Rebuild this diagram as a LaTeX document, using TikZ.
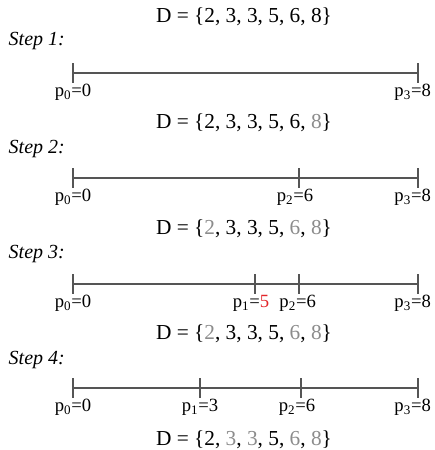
\documentclass[tikz,border=0pt]{standalone}
\usepackage{fontspec}
\setmainfont{Liberation Serif}
\usetikzlibrary{positioning}
\definecolor{faded}{HTML}{8C8C8C}
\definecolor{pick}{HTML}{E3262B}
\definecolor{axis}{HTML}{555555}
\newcommand{\gr}[1]{\textcolor{faded}{#1}}

\begin{document}
\begin{tikzpicture}[x=0.75pt,y=-0.75pt,
  setlbl/.style={font=\fontsize{16}{19}\selectfont},
  steplbl/.style={font=\fontsize{15}{18}\selectfont\itshape,anchor=west},
  ptlbl/.style={font=\fontsize{14}{17}\selectfont,below=5pt},
  axisline/.style={draw=axis,line width=0.8pt},
  tick/.style={draw=axis,line width=0.8pt}]
\useasboundingbox (0,0) rectangle (435,450);
% step 1
\node[setlbl] (set0) at (244,17) {D = \{2, 3, 3, 5, 6, 8\}};
\node[steplbl] (step1) at (4,41) {Step 1:};
\coordinate (a10) at (73,73); \coordinate (a13) at (418,73);
\draw[axisline] (a10) -- (a13);
\draw[tick] (a10) ++(0,-10) -- ++(0,20);
\draw[tick] (a13) ++(0,-10) -- ++(0,20);
\node[ptlbl] (l10) at (a10) {p\textsubscript{0}=0};
\node[ptlbl,xshift=-4pt] (l13) at (a13) {p\textsubscript{3}=8};
% step 2
\node[setlbl] (set1) at (244,123) {D = \{2, 3, 3, 5, 6, \gr{8}\}};
\node[steplbl] (step2) at (4,149) {Step 2:};
\coordinate (a20) at (73,178); \coordinate (a22) at (299,178); \coordinate (a23) at (418,178);
\draw[axisline] (a20) -- (a22) -- (a23);
\draw[tick] (a20) ++(0,-10) -- ++(0,20);
\draw[tick] (a22) ++(0,-10) -- ++(0,20);
\draw[tick] (a23) ++(0,-10) -- ++(0,20);
\node[ptlbl] (l20) at (a20) {p\textsubscript{0}=0};
\node[ptlbl,xshift=-3pt] (l22) at (a22) {p\textsubscript{2}=6};
\node[ptlbl,xshift=-4pt] (l23) at (a23) {p\textsubscript{3}=8};
% step 3
\node[setlbl] (set2) at (244,229) {D = \{\gr{2}, 3, 3, 5, \gr{6}, \gr{8}\}};
\node[steplbl] (step3) at (4,254) {Step 3:};
\coordinate (a30) at (73,284); \coordinate (a31) at (255,284);
\coordinate (a32) at (299,284); \coordinate (a33) at (418,284);
\draw[axisline] (a30) -- (a31) -- (a32) -- (a33);
\draw[tick] (a30) ++(0,-10) -- ++(0,20);
\draw[tick] (a31) ++(0,-10) -- ++(0,20);
\draw[tick] (a32) ++(0,-10) -- ++(0,20);
\draw[tick] (a33) ++(0,-10) -- ++(0,20);
\node[ptlbl] (l30) at (a30) {p\textsubscript{0}=0};
\node[ptlbl,xshift=-3pt] (l31) at (a31) {p\textsubscript{1}=\textcolor{pick}{5}};
\node[ptlbl,xshift=-1pt] (l32) at (a32) {p\textsubscript{2}=6};
\node[ptlbl,xshift=-4pt] (l33) at (a33) {p\textsubscript{3}=8};
% step 4
\node[setlbl] (set3) at (244,334) {D = \{\gr{2}, 3, 3, 5, \gr{6}, \gr{8}\}};
\node[steplbl] (step4) at (4,360) {Step 4:};
\coordinate (a40) at (73,388); \coordinate (a41) at (200,388);
\coordinate (a42) at (301,388); \coordinate (a43) at (418,388);
\draw[axisline] (a40) -- (a41) -- (a42) -- (a43);
\draw[tick] (a40) ++(0,-10) -- ++(0,20);
\draw[tick] (a41) ++(0,-10) -- ++(0,20);
\draw[tick] (a42) ++(0,-10) -- ++(0,20);
\draw[tick] (a43) ++(0,-10) -- ++(0,20);
\node[ptlbl] (l40) at (a40) {p\textsubscript{0}=0};
\node[ptlbl] (l41) at (a41) {p\textsubscript{1}=3};
\node[ptlbl,xshift=-3pt] (l42) at (a42) {p\textsubscript{2}=6};
\node[ptlbl,xshift=-4pt] (l43) at (a43) {p\textsubscript{3}=8};
\node[setlbl] (set4) at (244,440) {D = \{2, \gr{3}, \gr{3}, 5, \gr{6}, \gr{8}\}};
\end{tikzpicture}
\end{document}
